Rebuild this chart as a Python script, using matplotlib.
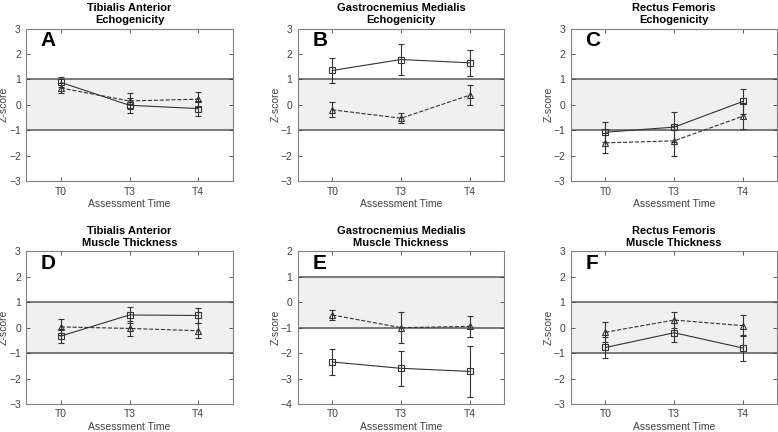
import matplotlib
matplotlib.use("Agg")
import matplotlib.pyplot as plt

plt.rcParams["font.family"] = ["Liberation Sans", "DejaVu Sans"]

TIMES = ["T0", "T3", "T4"]
LETTERS = ["A", "B", "C", "D", "E", "F"]
TITLES = [
    "Tibialis Anterior\nEchogenicity",
    "Gastrocnemius Medialis\nEchogenicity",
    "Rectus Femoris\nEchogenicity",
    "Tibialis Anterior\nMuscle Thickness",
    "Gastrocnemius Medialis\nMuscle Thickness",
    "Rectus Femoris\nMuscle Thickness",
]

# solid line, square markers
sq_mean = [
    [0.88, -0.02, -0.15],
    [1.35, 1.78, 1.65],
    [-1.08, -0.88, 0.13],
    [-0.33, 0.50, 0.48],
    [-2.35, -2.60, -2.72],
    [-0.78, -0.20, -0.80],
]
sq_err = [
    [0.20, 0.30, 0.28],
    [0.50, 0.60, 0.50],
    [0.40, 0.60, 0.50],
    [0.28, 0.30, 0.30],
    [0.50, 0.70, 1.00],
    [0.40, 0.38, 0.50],
]
# dashed line, triangle markers
tri_mean = [
    [0.66, 0.15, 0.22],
    [-0.20, -0.53, 0.38],
    [-1.50, -1.42, -0.45],
    [0.03, -0.03, -0.12],
    [-0.50, -1.00, -0.95],
    [-0.18, 0.30, 0.08],
]
tri_err = [
    [0.20, 0.30, 0.30],
    [0.30, 0.20, 0.40],
    [0.40, 0.60, 0.50],
    [0.30, 0.30, 0.30],
    [0.20, 0.60, 0.40],
    [0.40, 0.30, 0.42],
]
YLIMS = [(-3, 3), (-3, 3), (-3, 3), (-3, 3), (-4, 2), (-3, 3)]

fig = plt.figure(figsize=(7.78, 4.32), dpi=100)
lefts = [0.034, 0.383, 0.734]
bottoms = [0.581, 0.065]
w, h = 0.265, 0.353

x = [1, 2, 3]
for i in range(6):
    r, c = divmod(i, 3)
    ax = fig.add_axes([lefts[c], bottoms[r], w, h])
    ax.axhspan(-1, 1, color="#f0f0f0", zorder=0)
    ax.axhline(1, color="#707070", lw=1.3, zorder=1)
    ax.axhline(-1, color="#707070", lw=1.3, zorder=1)

    ax.errorbar(x, sq_mean[i], yerr=sq_err[i], color="#333333", lw=0.8,
                ls="-", marker="s", ms=4.5, mfc="none", mec="#333333",
                mew=0.8, capsize=2.5, elinewidth=0.8, zorder=3)
    ax.errorbar(x, tri_mean[i], yerr=tri_err[i], color="#333333", lw=0.8,
                ls="--", marker="^", ms=4.5, mfc="none", mec="#333333",
                mew=0.8, capsize=2.5, elinewidth=0.8, zorder=3)

    ax.set_xlim(0.5, 3.5)
    lo, hi = YLIMS[i]
    ax.set_ylim(lo, hi)
    ax.set_yticks(range(lo, hi + 1))
    ax.set_xticks(x)
    ax.set_xticklabels(TIMES)
    ax.tick_params(direction="in", length=3, labelsize=7.5, colors="#404040",
                   top=True, right=True, width=0.6, pad=4)
    for sp in ax.spines.values():
        sp.set_color("#808080")
        sp.set_linewidth(0.8)
    ax.set_xlabel("Assessment Time", fontsize=7.5, color="#404040", labelpad=2)
    ax.set_ylabel("Z-score", fontsize=7.5, color="#404040", labelpad=0)
    ax.set_title(TITLES[i], fontsize=8, fontweight="bold", pad=4,
                 linespacing=1.2)
    ax.text(0.07, 0.92, LETTERS[i], transform=ax.transAxes, fontsize=15,
            fontweight="bold", ha="left", va="center")

fig.savefig("out.png", dpi=100)
